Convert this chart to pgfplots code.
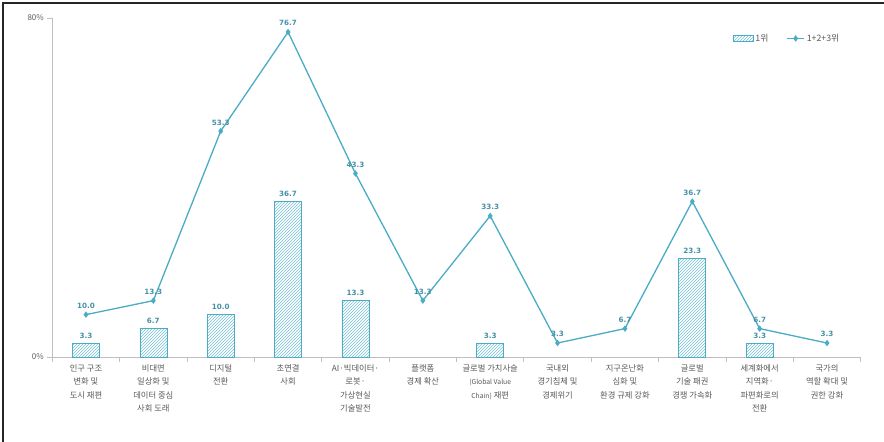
\documentclass[border=0pt]{standalone}
\usepackage{fontspec}
\setmainfont{Noto Sans CJK KR}
\newfontfamily\numfont{DejaVu Sans}
\usepackage{pgfplots}
\pgfplotsset{compat=1.18}
\usetikzlibrary{patterns}
\definecolor{aqua}{HTML}{4BACC6}
\definecolor{aquadark}{HTML}{31859C}
\definecolor{txtgray}{HTML}{595959}
\definecolor{axgray}{HTML}{BFBFBF}
\pgfplotsset{rectlegend/.style={legend image code/.code={\draw[##1] (0pt,-3pt) rectangle (20pt,3pt);}}}
\begin{document}
\begin{tikzpicture}[x=1pt,y=1pt]
\useasboundingbox (0,0) rectangle (884,442);
\fill[white] (0,0) rectangle (884,442);
\draw[line width=2pt, black!85] (3,0) -- (3,439) -- (884,439);
\begin{axis}[
  at={(52.3pt,85pt)}, anchor=south west,
  scale only axis, width=808.4pt, height=339pt,
  xmin=-0.5, xmax=11.5, ymin=0, ymax=80,
  clip=false,
  axis lines*=left,
  axis line style={axgray, line width=0.8pt},
  tick align=outside,
  major tick length=5pt,
  tick style={axgray, line width=0.8pt},
  ytick={0,80}, yticklabels={0\%,80\%},
  yticklabel style={font=\fontsize{8}{9}\selectfont, text=txtgray},
  xtick={-0.5,0.5,...,11.5}, xticklabels={},
  extra x ticks={0,1,...,11},
  extra x tick style={major tick length=0pt},
  extra x tick labels={
    {인구 구조\\변화 및\\도시 재편},
    {비대면\\일상화 및\\데이터 중심\\사회 도래},
    {디지털\\전환},
    {초연결\\사회},
    {AI·빅데이터·\\로봇·\\가상현실\\기술발전},
    {플랫폼\\경제 확산},
    {글로벌 가치사슬\\{\fontsize{6.8}{13.5}\selectfont(Global Value}\\{\fontsize{6.8}{13.5}\selectfont Chain)} 재편},
    {국내외\\경기침체 및\\경제위기},
    {지구온난화\\심화 및\\환경 규제 강화},
    {글로벌\\기술 패권\\경쟁 가속화},
    {세계화에서\\지역화·\\파편화로의\\전환},
    {국가의\\역할 확대 및\\권한 강화}},
  xticklabel style={font=\fontsize{8.3}{13.5}\selectfont, align=center, text=txtgray, yshift=-4pt},
  legend style={draw=none, fill=none, at={(0.98,0.965)}, anchor=north east,
    font=\fontsize{8.8}{10}\selectfont, text=txtgray,
    /tikz/every even column/.append style={column sep=16pt}},
  legend columns=2,
]
\addplot[ybar, bar width=27pt, draw=aqua, line width=0.6pt,
  pattern=north east lines, pattern color=aqua!75, rectlegend,
  nodes near coords={\pgfmathprintnumber[fixed,fixed zerofill,precision=1,assume math mode=true]{\pgfplotspointmeta}},
  every node near coord/.append style={font=\numfont\bfseries\fontsize{7.2}{8}\selectfont, text=aquadark!90, yshift=1pt}]
  coordinates {(0,3.3) (1,6.7) (2,10.0) (3,36.7) (4,13.3) (6,3.3) (9,23.3) (10,3.3)};
\addlegendentry{1위}
\addplot[color=aqua, line width=1.3pt, mark=diamond*, mark size=2.2pt,
  nodes near coords={\pgfmathprintnumber[fixed,fixed zerofill,precision=1,assume math mode=true]{\pgfplotspointmeta}},
  every node near coord/.append style={font=\numfont\bfseries\fontsize{7.2}{8}\selectfont, text=aquadark!90, yshift=2pt}]
  coordinates {(0,10.0) (1,13.3) (2,53.3) (3,76.7) (4,43.3) (5,13.3) (6,33.3) (7,3.3) (8,6.7) (9,36.7) (10,6.7) (11,3.3)};
\addlegendentry{1+2+3위}
\end{axis}
\end{tikzpicture}
\end{document}
